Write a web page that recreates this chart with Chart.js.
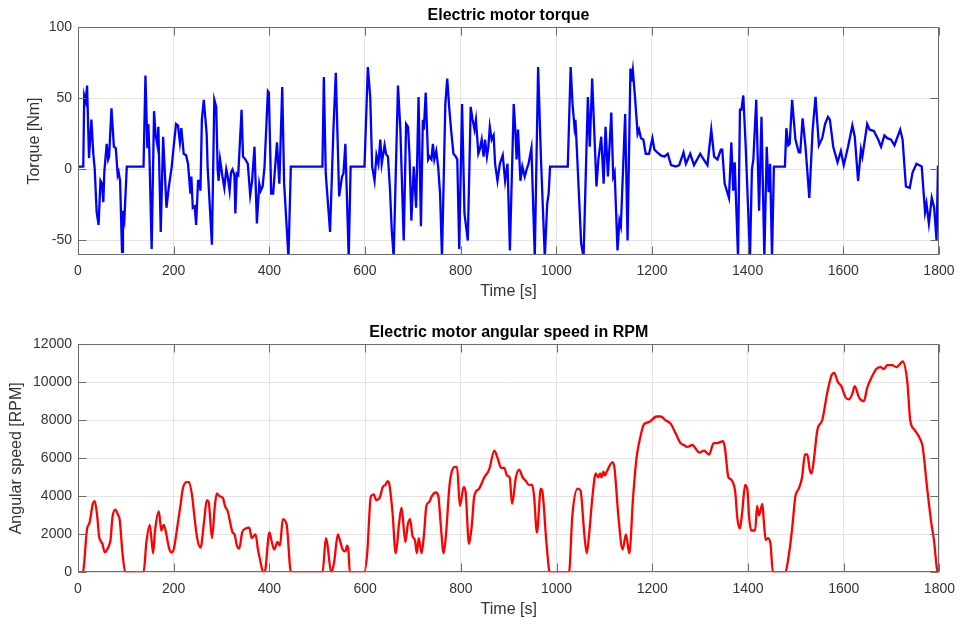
<!DOCTYPE html>
<html>
<head>
<meta charset="utf-8">
<title>Electric motor</title>
<script src="https://cdn.jsdelivr.net/npm/chart.js@4.4.0/dist/chart.umd.min.js"></script>
<style>
  html, body { margin: 0; padding: 0; background: #fff; }
  canvas { position: absolute; left: 0; display: block; }
  #chartTorque { top: 0; }
  #chartSpeed { top: 312px; }
</style>
</head>
<body>
<canvas id="chartTorque" width="963" height="312"></canvas>
<canvas id="chartSpeed" width="963" height="313"></canvas>
<script>
// Torque trace [s] / [Nm]
const TIME_TQ = [0, 11, 13, 16, 19, 23, 28, 32, 35, 39, 43, 47, 50, 53, 55, 60, 63, 65, 70, 75, 79, 83, 85, 88, 92, 94, 97, 102,
  137, 141, 145, 147, 149, 154, 159, 162, 166, 168, 173, 178, 185, 190, 196, 200, 205, 209, 213, 216, 221, 226, 230, 235, 237,
  240, 244, 247, 251, 254, 256, 259, 263, 269, 271, 280, 285, 289, 292, 294, 297, 302, 306, 310, 313, 317, 320, 323, 327, 329,
  332, 335, 342, 345, 350, 355, 360, 364, 369, 374, 379, 382, 386, 390, 397, 399, 404, 408, 416, 421, 427, 431, 440, 445,
  511, 514, 518, 527, 534, 539, 546, 552, 555, 559, 566, 570, 599, 606, 611, 615, 620, 624, 628, 632, 635, 641, 644, 648, 652,
  656, 660, 669, 674, 681, 686, 690, 693, 697, 702, 707, 712, 717, 721, 723, 727, 732, 735, 739, 742, 745, 749, 753, 757, 761,
  768, 772, 776, 780, 785, 790, 793, 797, 803, 808, 815, 821, 825, 829, 832, 837, 840, 844, 848, 851, 855, 858, 861, 865, 869,
  872, 877, 882, 888, 893, 898, 903, 911, 914, 917, 920, 925, 929, 934, 938, 942, 948, 955, 962, 968, 976, 981, 984, 987,
  1024, 1030, 1034, 1038, 1040, 1043, 1052, 1057, 1066, 1070, 1075, 1084, 1088, 1094, 1099, 1103, 1108, 1115, 1119, 1122,
  1128, 1132, 1135, 1144, 1149, 1155, 1157, 1160, 1165, 1170, 1173, 1177, 1182, 1187, 1194, 1201, 1205, 1211, 1218, 1226,
  1233, 1240, 1250, 1257, 1266, 1271, 1280, 1288, 1301, 1308, 1316, 1324, 1330, 1337, 1344, 1347, 1352, 1361, 1366, 1370,
  1373, 1380, 1384, 1387, 1391, 1396, 1405, 1409, 1412, 1418, 1424, 1429, 1435, 1440, 1444, 1447, 1451, 1455, 1478, 1481,
  1485, 1488, 1493, 1500, 1507, 1510, 1515, 1521, 1529, 1536, 1542, 1549, 1556, 1562, 1568, 1572, 1579, 1588, 1595, 1601,
  1610, 1619, 1624, 1631, 1637, 1640, 1650, 1655, 1664, 1673, 1679, 1686, 1692, 1700, 1707, 1719, 1724, 1731, 1739, 1745,
  1753, 1764, 1771, 1774, 1779, 1785, 1790, 1795, 1798, 1800];
const TORQUE = [2, 2, 52, 48, 59, 8, 35, 11, 0, -30, -39, -8, -10, -23, -2, 18, 7, 9, 43, 16, 15, -4, -2, -8, -58, -29, -35, 2,
  2, 66, 15, 32, 15, -56, 41, 25, 17, 30, -44, 23, -27, -12, 2, 16, 32, 31, 19, 29, 11, 10, 4, -17, -5,
  -27, -26, -39, -8, -8, -15, 35, 49, 25, 2, -53, 49, 44, 0, -8, 7, -5, -13, 0, -5, -15, -2, 0, -4, -31,
  -3, -4, 42, 9, 7, 4, -18, -8, 16, -38, -10, -15, -12, 2, 55, 54, -17, -17, 19, -10, 58, -10, -62, 2,
  2, 65, -3, -44, 28, 68, -19, -5, -3, 18, -62, 2, 2, 72, 51, 2, -8, 10, 4, 21, 4, 17, 11, 9, -12,
  -43, -62, 59, 28, -50, 32, 30, 11, -36, 2, -27, 51, -40, 35, 28, 54, 7, 9, 7, 18, 7, 13, 2, -17, -62,
  46, 64, 44, 28, 11, 9, 7, -56, 46, -31, -50, 44, 35, 28, 35, 11, 14, 21, 9, 21, 9, 16, 30, 21, 24,
  4, -8, 4, 10, -8, 4, -57, 46, 30, 7, 28, -8, 2, -5, 0, 4, 15, -62, 72, 7, -62, -24, -17, 2,
  2, 72, 46, 30, 35, 14, -52, -62, 51, 16, 64, -12, 7, 23, -10, 30, -5, 40, -5, -2,
  -57, -36, -40, 39, -50, 71, 62, 70, 49, 25, 28, 22, 21, 11, 11, 22, 14, 12, 10, 9,
  11, 3, 2, 3, 12, 4, 11, 3, 11, 7, 3, 28, 9, 7, 14, 14, -10, -20, 19, -15,
  5, -62, 42, 42, 52, 16, -62, 0, 7, 49, -29, 37, -62, 16, -16, 4, -62, 2, 2, 29,
  17, 18, 49, 21, 12, 12, 36, 16, -20, 28, 51, 17, 22, 32, 37, 35, 16, 5, 13, 3,
  16, 31, 23, -8, 14, 9, 32, 28, 27, 21, 16, 24, 22, 21, 17, 28, 21, -12, -13, -2,
  4, 2, -30, -24, -38, -20, -27, -50, 2, 2];

// Angular speed trace [s] / [RPM]
const TIME_RPM = [0, 10, 19, 24, 31, 35, 40, 44, 51, 56, 60, 66, 68, 72, 78, 84, 87, 93, 99, 137, 143, 150, 157, 161, 169,
  174, 179, 183, 190, 195, 200, 207, 214, 219, 227, 232, 238, 243, 249, 256, 264, 269, 273, 280, 286, 290, 296, 303, 307,
  313, 319, 323, 327, 332, 337, 343, 350, 358, 363, 371, 376, 381, 387, 390, 400, 404, 410, 417, 422, 428, 436, 445, 511,
  518, 521, 529, 535, 543, 546, 553, 559, 562, 565, 568, 598, 604, 612, 618, 623, 630, 637, 642, 647, 650, 657, 664, 671,
  676, 684, 689, 694, 699, 704, 708, 712, 718, 723, 728, 734, 739, 748, 753, 758, 764, 769, 776, 781, 788, 792, 798, 806,
  810, 817, 823, 828, 838, 849, 859, 870, 877, 884, 891, 896, 902, 907, 915, 922, 929, 936, 942, 949, 953, 959, 967, 970,
  979, 986, 1026, 1033, 1044, 1050, 1058, 1063, 1068, 1075, 1082, 1087, 1091, 1094, 1098, 1101, 1105, 1117, 1121, 1129,
  1138, 1145, 1152, 1160, 1167, 1174, 1183, 1193, 1209, 1218, 1228, 1239, 1249, 1259, 1266, 1273, 1284, 1291, 1298, 1308,
  1319, 1328, 1336, 1348, 1352, 1359, 1364, 1367, 1373, 1378, 1383, 1388, 1394, 1399, 1402, 1407, 1415, 1419, 1423, 1430,
  1433, 1437, 1442, 1447, 1452, 1477, 1487, 1493, 1499, 1506, 1513, 1519, 1524, 1529, 1533, 1538, 1545, 1555, 1566, 1575,
  1580, 1588, 1595, 1604, 1611, 1618, 1623, 1632, 1642, 1649, 1659, 1668, 1677, 1684, 1691, 1701, 1710, 1719, 1723, 1733,
  1739, 1748, 1760, 1765, 1774, 1783, 1788, 1797, 1800];
const SPEED = [0, 0, 2300, 2600, 3600, 3750, 3000, 1900, 1500, 1050, 1150, 1500, 1700, 2900, 3300, 3000, 2800, 1000, 0, 0,
  1600, 2500, 1000, 2200, 3200, 2200, 2500, 2200, 1300, 1050, 1200, 2300, 3500, 4400, 4750, 4750, 4100, 3000, 1800, 1300,
  2800, 3800, 3700, 1800, 3500, 4150, 4000, 3900, 3500, 3200, 2500, 2100, 2000, 1400, 1250, 2100, 2300, 2350, 1800, 2000,
  1200, 600, 0, 0, 2100, 1700, 1200, 1600, 1400, 2800, 2500, 0, 0, 1800, 1500, 0, 500, 2000, 1800, 1200, 1100, 1400,
  1200, 0, 0, 900, 4000, 4100, 3800, 3900, 4500, 4600, 4800, 4700, 3200, 1000, 2600, 3400, 1600, 2500, 2800, 1900, 1700,
  1000, 1800, 1000, 2000, 3500, 3700, 4000, 4200, 4000, 2500, 1000, 2000, 4500, 5300, 5550, 5550, 3500, 4500, 4200, 1500,
  2500, 4000, 4400, 5000, 5400, 6400, 6000, 5500, 5500, 5100, 5000, 3600, 5000, 5400, 5000, 4800, 4600, 4600, 4000, 2100,
  4400, 4300, 1500, 0, 0, 3000, 4400, 4300, 2000, 1000, 2000, 4000, 5200, 5000, 5200, 5000, 5300, 5100, 5300, 5800,
  5500, 3000, 1200, 2000, 1000, 4000, 6000, 7000, 7800, 7900, 8200, 8200, 8000, 7800, 7300, 6800, 6700, 6600, 6700, 6500,
  6300, 6400, 6200, 6800, 6800, 6900, 6500, 5000, 4900, 4800, 4300, 2800, 2300, 3200, 4600, 4300, 3000, 2200, 2200, 3500,
  3000, 3600, 2700, 1700, 1800, 1500, 0, 0, 1200, 2500, 4000, 4400, 5000, 6200, 6200, 5400, 5200, 6000, 7500, 8000, 9500,
  10400, 10500, 10000, 9800, 9200, 9100, 9400, 9800, 9200, 9000, 9700, 10300, 10700, 10800, 10700, 10900, 10900, 10800,
  11000, 11100, 10000, 8000, 7500, 7000, 6600, 4500, 2600, 1800, 0, 0];

// Axis ticks
const X_TICKS = [0, 200, 400, 600, 800, 1000, 1200, 1400, 1600, 1800];
const TQ_TICKS = [-50, 0, 50, 100];
const RPM_TICKS = [0, 2000, 4000, 6000, 8000, 10000, 12000];

const FONT = "'Liberation Sans', Arial, Helvetica, sans-serif";
const AXIS_COLOR = "#6b6b6b";
const GRID_COLOR = "#e4e4e4";
const TEXT_COLOR = "#333333";
const TICK_LEN = 8;

const toPoints = (xs, ys) => xs.map((x, i) => ({ x, y: ys[i] }));

// box around the plot area with inward tick marks on all four sides
const axesBox = {
  id: "axesBox",
  afterDatasetsDraw(chart) {
    const { ctx, chartArea: a, scales: { x, y } } = chart;
    const L = Math.round(a.left) + 0.5, R = Math.round(a.right) - 0.5;
    const T = Math.round(a.top) + 0.5, B = Math.round(a.bottom) - 0.5;
    ctx.save();
    ctx.strokeStyle = AXIS_COLOR;
    ctx.lineWidth = 1;
    ctx.strokeRect(L, T, R - L, B - T);
    ctx.beginPath();
    x.ticks.forEach((t) => {
      const px = Math.round(x.getPixelForValue(t.value)) + 0.5;
      ctx.moveTo(px, B); ctx.lineTo(px, B - TICK_LEN);
      ctx.moveTo(px, T); ctx.lineTo(px, T + TICK_LEN);
    });
    y.ticks.forEach((t) => {
      const py = Math.round(y.getPixelForValue(t.value)) + 0.5;
      ctx.moveTo(L, py); ctx.lineTo(L + TICK_LEN, py);
      ctx.moveTo(R, py); ctx.lineTo(R - TICK_LEN, py);
    });
    ctx.stroke();
    ctx.restore();
  }
};

function panelOptions(p) {
  return {
    responsive: false,
    animation: false,
    events: [],
    layout: { padding: { left: 0, right: 23, top: 0, bottom: 0 } },
    plugins: {
      legend: { display: false },
      tooltip: { enabled: false },
      title: {
        display: true,
        text: p.title,
        fullSize: false,
        color: "#000",
        font: { family: FONT, size: 16, weight: "bold" },
        padding: p.titlePad
      }
    },
    scales: {
      x: {
        type: "linear",
        min: 0,
        max: 1800,
        afterBuildTicks: (s) => { s.ticks = X_TICKS.map((v) => ({ value: v })); },
        afterFit: (s) => { s.height = p.xHeight; },
        grid: { color: GRID_COLOR, drawTicks: false },
        border: { display: false },
        ticks: {
          color: TEXT_COLOR, padding: p.xTickPad, maxRotation: 0, autoSkip: false,
          font: { family: FONT, size: 14 },
          callback: (v) => String(v)
        },
        title: {
          display: true, text: "Time [s]", color: TEXT_COLOR,
          font: { family: FONT, size: 16 },
          padding: { top: 0, bottom: p.xTitlePad }
        }
      },
      y: {
        min: p.yMin,
        max: p.yMax,
        afterBuildTicks: (s) => { s.ticks = p.yTicks.map((v) => ({ value: v })); },
        afterFit: (s) => { s.width = 78; },
        grid: { color: GRID_COLOR, drawTicks: false },
        border: { display: false },
        ticks: {
          color: TEXT_COLOR, padding: 6,
          font: { family: FONT, size: 14 },
          callback: (v) => String(v)
        },
        title: {
          display: true, text: p.yLabel, color: TEXT_COLOR,
          font: { family: FONT, size: 16 },
          padding: { top: p.yTitlePad, bottom: 0 }
        }
      }
    }
  };
}

function lineSet(points, color, smooth) {
  return {
    data: points,
    borderColor: color,
    borderWidth: 2.3,
    pointRadius: 0,
    fill: false,
    tension: smooth ? 0.4 : 0,
    cubicInterpolationMode: smooth ? "monotone" : "default",
    clip: { left: 0, top: 0, right: 0, bottom: 0 }
  };
}

new Chart(document.getElementById("chartTorque"), {
  type: "line",
  data: { datasets: [lineSet(toPoints(TIME_TQ, TORQUE), "#0000ff", false)] },
  options: panelOptions({
    title: "Electric motor torque",
    titlePad: { top: 6, bottom: 2.1 },
    yLabel: "Torque [Nm]",
    yMin: -60, yMax: 100, yTicks: TQ_TICKS,
    xHeight: 57.3, xTickPad: 8.5, xTitlePad: 10.4, yTitlePad: 25.4
  }),
  plugins: [axesBox]
});

new Chart(document.getElementById("chartSpeed"), {
  type: "line",
  data: { datasets: [lineSet(toPoints(TIME_RPM, SPEED), "#ff0000", true)] },
  options: panelOptions({
    title: "Electric motor angular speed in RPM",
    titlePad: { top: 11.4, bottom: 1.7 },
    yLabel: "Angular speed [RPM]",
    yMin: 0, yMax: 12000, yTicks: RPM_TICKS,
    xHeight: 52.7, xTickPad: 8, xTitlePad: 5.4, yTitlePad: 7.4
  }),
  plugins: [axesBox]
});
</script>
</body>
</html>
